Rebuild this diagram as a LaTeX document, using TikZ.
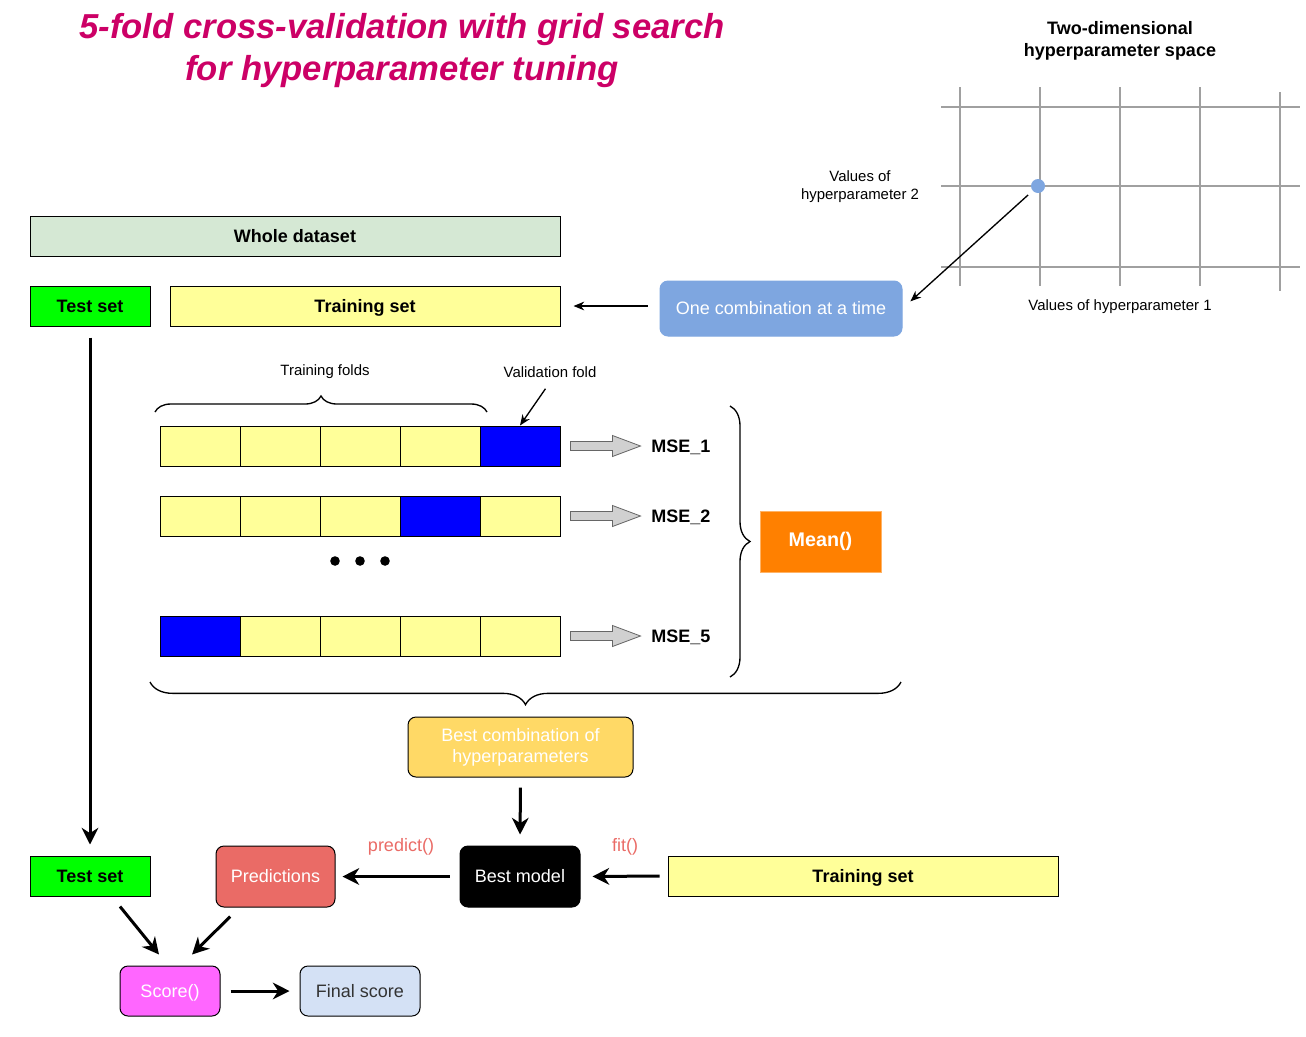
\documentclass[tikz,border=0pt]{standalone}
\usepackage{fontspec}
\setmainfont{Liberation Sans}
\usetikzlibrary{arrows.meta,decorations.pathreplacing,calc}
\definecolor{titlec}{HTML}{CC0066}
\definecolor{wholec}{HTML}{D5E8D4}
\definecolor{greenc}{HTML}{00FF00}
\definecolor{yellowc}{HTML}{FFFF99}
\definecolor{onec}{HTML}{7EA6E0}
\definecolor{foldblue}{HTML}{0000FF}
\definecolor{orangec}{HTML}{FF8000}
\definecolor{bestc}{HTML}{FFD966}
\definecolor{predc}{HTML}{EA6B66}
\definecolor{scorec}{HTML}{FF66FF}
\definecolor{finalc}{HTML}{D4E1F5}
\definecolor{gridc}{HTML}{A0A0A0}
\definecolor{blockc}{HTML}{D0D0D0}
\definecolor{darktext}{HTML}{333333}
\begin{document}
\begin{tikzpicture}[x=0.75pt,y=-0.75pt,
  txt/.style={font=\fontsize{13.5}{16}\selectfont},
  btxt/.style={font=\fontsize{13.5}{16}\selectfont\bfseries},
  small/.style={font=\fontsize{11.2}{13.5}\selectfont},
  box/.style={draw=black, line width=0.75pt, inner sep=0pt, align=center, txt},
  rbox/.style={box, rounded corners=6pt},
  oneline/.style={text height=9.2pt, text depth=0pt},
  fold/.style={draw=black, line width=0.75pt, fill=yellowc, minimum width=60pt, minimum height=30pt, inner sep=0pt},
  vfold/.style={fold, fill=foldblue},
  thickarr/.style={line width=2.25pt, -{Stealth[length=12.5pt,width=12.5pt,inset=4pt]}},
  thinarr/.style={line width=1pt, -{Stealth[length=8pt,width=6.5pt,inset=2.5pt]}},
  gridline/.style={draw=gridc, line width=1.5pt},
  blockarr/.style={draw=black!60, line width=0.6pt, fill=blockc},
  bracestyle/.style={draw=black, line width=1pt, decorate},
  mse/.style={anchor=west, inner sep=0pt, btxt},
  fnlabel/.style={txt, text=predc}
]
\useasboundingbox (0,0) rectangle (1306,1036);

% Title
\node[anchor=base, text=titlec, font=\fontsize{26}{31}\selectfont\bfseries\itshape] (title1) at (402,38) {5-fold cross-validation with grid search};
\node[anchor=base, text=titlec, font=\fontsize{26}{31}\selectfont\bfseries\itshape] (title2) at (402,80) {for hyperparameter tuning};

% Hyperparameter space
\node[anchor=base, btxt] (ht1) at (1120,34) {Two-dimensional};
\node[anchor=base, btxt] (ht2) at (1120,56) {hyperparameter space};
\foreach \gx in {960,1040,1120,1200} {\draw[gridline] (\gx,87) -- (\gx,286);}
\draw[gridline] (1280,92) -- (1280,291);
\foreach \gy in {107,186,267} {\draw[gridline] (941,\gy) -- (1300,\gy);}
\coordinate (dot) at (1038,186);
\fill[onec] (dot) circle (5.25pt);
\node[small, align=center] (hp2) at (860,187) {Values of\\hyperparameter 2};
\node[small] (hp1) at (1120,307) {Values of hyperparameter 1};

% Data boxes
\node[box, fill=wholec, minimum width=397.5pt, minimum height=30pt, btxt, oneline] (whole) at (295,236) {Whole dataset};
\node[box, fill=greenc, minimum width=90pt, minimum height=30pt, btxt, oneline] (test1) at (90,306) {Test set};
\node[box, fill=yellowc, minimum width=292.5pt, minimum height=30pt, btxt, oneline] (train1) at (365,306) {Training set};
\node[rbox, draw=onec, fill=onec, text=white, minimum width=181.5pt, minimum height=41.25pt, oneline] (one) at (781,308.5) {One combination at a time};

\draw[thinarr, shorten <=10pt, shorten >=8pt] (dot) -- (one.east);
\draw[thinarr, shorten <=9pt, shorten >=9.75pt] (one.west |- train1.east) -- (train1.east);

% Folds
\node[small] (tflabel) at (325,372) {Training folds};
\node[small] (vlabel) at (550,372) {Validation fold};
\foreach \i/\fx in {1/200,2/280,3/360,4/440} {\node[fold] (fa\i) at (\fx,446) {};}
\node[vfold] (fa5) at (520,446) {};
\foreach \i/\fx in {1/200,2/280,3/360,5/520} {\node[fold] (fb\i) at (\fx,516) {};}
\node[vfold] (fb4) at (440,516) {};
\node[vfold] (fc1) at (200,636) {};
\foreach \i/\fx in {2/280,3/360,4/440,5/520} {\node[fold] (fc\i) at (\fx,636) {};}

\draw[bracestyle, decoration={brace, amplitude=12pt}] (155,412) -- (487,412);
\draw[thinarr, shorten <=6pt] (vlabel.south) -- (fa5.north);

\foreach \d in {335,360,385} {\fill (\d,561) circle (3.6pt);}

% Block arrows and MSE labels
\foreach \r/\ry/\lab in {fa5/447/MSE\_1, fb5/517/MSE\_2, fc5/637/MSE\_5} {
  \draw[blockarr] ($(\r.east)+(10,-4.5)$) -- ++(42,0) -- ++(0,-6) -- ++(28,10.5) -- ++(-28,10.5) -- ++(0,-6) -- ++(-42,0) -- cycle;
  \node[mse] at (651,\ry) {\lab};
}

\draw[bracestyle, decoration={brace, amplitude=15pt}] (730,406) -- (730,677);
\node[draw=orangec!60, fill=orangec, text=white, minimum width=90.75pt, minimum height=45.75pt, inner sep=0pt, font=\fontsize{14.8}{17}\selectfont\bfseries] (mean) at (820.5,541.5) {Mean()};

\draw[bracestyle, decoration={brace, amplitude=17pt}] (901,682) -- (150,682);

% Bottom part
\node[rbox, fill=bestc, text=white, minimum width=168.75pt, minimum height=45pt] (bestcomb) at (520.5,747) {Best combination of\\hyperparameters};
\node[rbox, fill=black, text=white, minimum width=90pt, minimum height=45.75pt, oneline] (bestmodel) at (520,876.5) {Best model};
\node[rbox, fill=predc, text=white, minimum width=89.25pt, minimum height=45.75pt, oneline] (pred) at (275.5,876.5) {Predictions};
\node[box, fill=greenc, minimum width=90pt, minimum height=30pt, btxt, oneline] (test2) at (90,876) {Test set};
\node[box, fill=yellowc, minimum width=292.5pt, minimum height=30pt, btxt, oneline] (train2) at (863,876) {Training set};
\node[rbox, fill=scorec, text=white, minimum width=75pt, minimum height=37.5pt, oneline] (score) at (170,991) {Score()};
\node[rbox, fill=finalc, text=darktext, minimum width=90pt, minimum height=37.5pt, oneline] (final) at (360,991) {Final score};

\node[fnlabel] (predictlab) at (401,847) {predict()};
\node[fnlabel] (fitlab) at (625,847) {fit()};

\draw[thickarr, shorten <=8.25pt, shorten >=8.25pt] (test1.south) -- (test2.north);
\draw[thickarr, shorten <=7.5pt, shorten >=8.25pt] (bestcomb.south) -- (bestmodel.north);
\draw[thickarr, shorten <=7.5pt, shorten >=5.25pt] (bestmodel.west) -- (pred.east);
\draw[thickarr, shorten <=6pt, shorten >=9pt] (train2.west) -- (bestmodel.east);
\draw[thickarr] ([xshift=22.5pt,yshift=-7.5pt]test2.south) -- ([xshift=-8.25pt,yshift=8.25pt]score.north);
\draw[thickarr] ([xshift=-34pt,yshift=-6.75pt]pred.south) -- ([xshift=16.5pt,yshift=8.25pt]score.north);
\draw[thickarr, shorten <=7.5pt, shorten >=7.5pt] (score.east) -- (final.west);
\end{tikzpicture}
\end{document}
